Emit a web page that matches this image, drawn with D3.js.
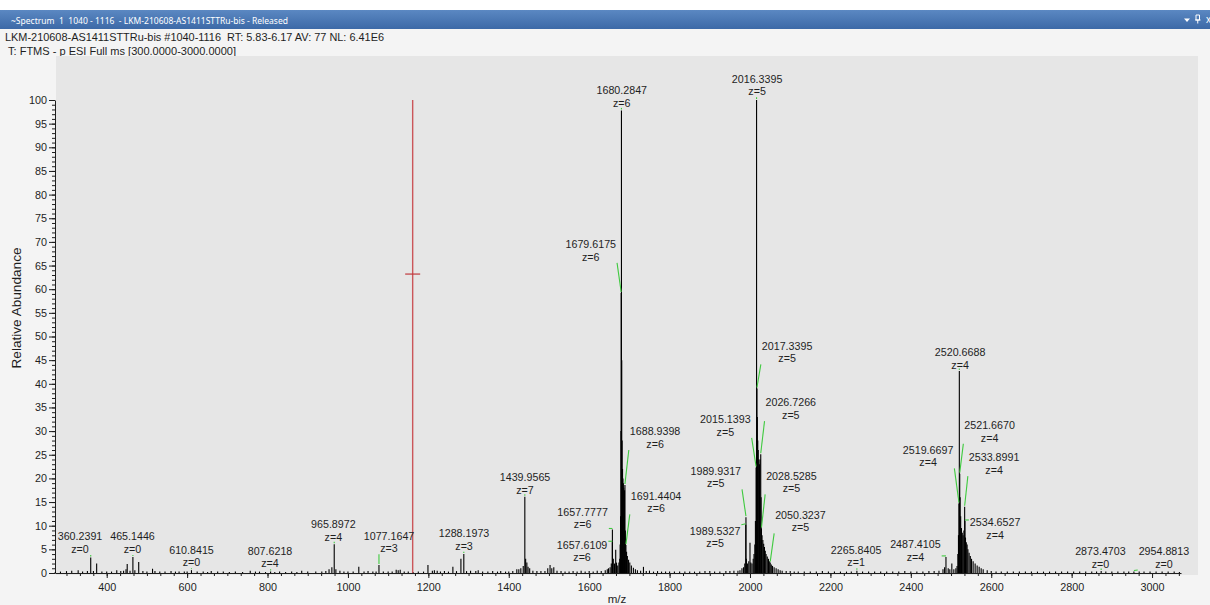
<!DOCTYPE html>
<html>
<head>
<meta charset="utf-8">
<script src="https://cdn.jsdelivr.net/npm/d3@7"></script>
<style>
  body { margin: 0; background: #ffffff; }
  svg { display: block; font-family: "Liberation Sans", Arial, sans-serif; }
  .pre { white-space: pre; }
</style>
</head>
<body>
<script>
/*#############################################################################################################
* ### Data #####################################################################################################
* #############################################################################################################*/
var windowTitle = "~Spectrum  1  1040 - 1116  - LKM-210608-AS1411STTRu-bis - Released";
var headerLines = [
    "LKM-210608-AS1411STTRu-bis #1040-1116  RT: 5.83-6.17 AV: 77 NL: 6.41E6",
    "T: FTMS - p ESI Full ms [300.0000-3000.0000]"
];
var xTitle = "m/z";
var yTitle = "Relative Abundance";
var xTicks = [400, 600, 800, 1000, 1200, 1400, 1600, 1800, 2000, 2200, 2400, 2600, 2800, 3000];
var yTicks = [0, 5, 10, 15, 20, 25, 30, 35, 40, 45, 50, 55, 60, 65, 70, 75, 80, 85, 90, 95, 100];
var mzRange = [271.4, 3072];

// [m/z, relative abundance]
var spectrum = [
    [272, 0.2], [285, 0.3], [300, 0.4], [313, 0.5], [329, 0.6], [340, 0.3], [352, 0.4], [360.2391, 3.3],
    [367, 0.4], [375, 2.0], [388, 0.3], [400, 0.3], [412, 0.3], [425, 0.6], [435, 0.4], [442, 0.5],
    [448, 0.8], [451, 1.9], [458, 0.5], [465.1446, 3.4], [470, 0.6], [479.6, 2.3], [490, 0.4], [500, 0.3],
    [514, 0.9], [520, 0.4], [532, 0.3], [545, 0.3], [560, 0.4], [571, 0.3], [580, 0.3], [593, 0.3],
    [600, 0.3], [610.8415, 0.6], [625, 0.3], [640, 0.3], [651, 0.2], [660, 0.4], [676, 0.3], [690, 0.3],
    [705, 0.2], [720, 0.3], [738, 0.2], [757, 0.5], [770, 0.3], [780, 0.3], [795, 0.2], [807.6218, 0.3],
    [818, 0.2], [830, 0.3], [845, 0.2], [860, 0.3], [873, 0.2], [885, 0.5], [900, 0.3], [920, 0.3],
    [935, 0.3], [945, 0.4], [953, 0.8], [960, 1.2], [965.8972, 6.1], [970, 0.8], [980, 0.5], [990, 0.3],
    [1000, 0.3], [1013, 0.3], [1027, 1.3], [1040, 0.3], [1050, 0.4], [1062, 0.3], [1070, 0.3], [1077.1647, 1.7],
    [1088, 0.3], [1100, 0.3], [1110, 0.3], [1120, 0.7], [1125, 0.6], [1130, 0.7], [1140, 0.3], [1150, 0.3],
    [1162, 0.2], [1175, 0.3], [1188, 0.3], [1199, 1.7], [1210, 0.5], [1215, 0.6], [1222, 0.5], [1230, 0.3],
    [1240, 0.4], [1250, 0.3], [1261, 1.3], [1270, 0.4], [1281, 3.0], [1288.1973, 4.0], [1295, 0.4], [1305, 0.5],
    [1318, 0.4], [1324, 0.6], [1335, 0.3], [1348, 0.3], [1360, 0.4], [1372, 0.3], [1380, 0.4], [1392, 0.3],
    [1400, 0.3], [1410, 0.4], [1420, 0.8], [1425, 0.8], [1430, 1.0], [1436, 1.5], [1439.9565, 16.1], [1442, 3.0],
    [1445, 2.2], [1448, 1.3], [1452, 1.0], [1460, 0.5], [1470, 0.4], [1480, 0.4], [1490, 0.4], [1497, 1.0],
    [1502.7, 1.7], [1507, 1.0], [1512, 1.2], [1520, 0.5], [1530, 0.4], [1540, 0.3], [1550, 0.3], [1560, 0.4],
    [1570, 0.3], [1580, 0.5], [1590, 0.3], [1600, 0.4], [1610, 0.3], [1620, 0.5], [1630, 0.4], [1640, 0.6],
    [1645, 0.8], [1648, 1.0], [1652, 1.2], [1655, 2.0], [1657.6109, 6.5], [1657.7777, 9.2], [1660, 3.0], [1663, 2.0],
    [1666, 4.9], [1668, 2.2], [1671, 1.6], [1674, 2.2], [1676, 3.0], [1677, 6], [1678, 12], [1679, 30],
    [1679.6175, 59.2], [1680.2847, 97.8], [1681, 45], [1682, 28], [1683, 22], [1684, 20], [1685, 19], [1686, 18],
    [1687, 17], [1688, 17.5], [1688.9398, 18.6], [1690, 9], [1691.4404, 5.9], [1693, 4.5], [1695, 3.6], [1698, 2.8],
    [1701, 2.2], [1705, 1.6], [1710, 1.1], [1715, 0.8], [1720, 0.6], [1728, 0.5], [1735, 1.3], [1742, 0.4],
    [1750, 0.5], [1760, 0.3], [1770, 0.4], [1780, 0.3], [1790, 0.3], [1800, 0.3], [1812, 0.3], [1825, 0.3],
    [1838, 0.3], [1850, 0.3], [1862, 0.3], [1875, 0.3], [1888, 0.4], [1900, 0.4], [1912, 0.3], [1925, 0.3],
    [1940, 0.4], [1950, 0.4], [1960, 0.5], [1970, 0.5], [1975, 0.6], [1980, 1.0], [1984, 1.2], [1987, 2.0],
    [1989.5327, 10.2], [1989.9317, 11.8], [1991, 3.0], [1994, 2.0], [1997, 2.5], [2000, 6.4], [2002, 2.2], [2005, 2.0],
    [2008, 3.0], [2010, 4.0], [2012, 6.0], [2013.5, 11], [2015.1393, 22.3], [2016.3395, 100], [2017.3395, 39], [2018.3, 33],
    [2019.3, 28], [2020.5, 26], [2022, 24], [2023.5, 23], [2025, 24], [2026.7266, 25.1], [2027.6, 16], [2028.5285, 9.4],
    [2030, 8], [2032, 7], [2034, 6.2], [2036, 5.5], [2038, 4.7], [2040, 4.0], [2043, 3.5], [2046, 3.0],
    [2048, 2.5], [2050.3237, 2.2], [2053, 1.8], [2056, 1.5], [2060, 1.2], [2065, 1.0], [2070, 0.8], [2075, 0.6],
    [2080, 0.5], [2090, 0.4], [2100, 0.4], [2110, 0.3], [2120, 0.3], [2135, 0.3], [2150, 0.3], [2165, 0.3],
    [2180, 0.4], [2195, 0.3], [2210, 0.3], [2225, 0.3], [2240, 0.3], [2252, 0.3], [2265.8405, 0.5], [2280, 0.3],
    [2295, 0.3], [2310, 0.3], [2325, 0.3], [2340, 0.3], [2355, 0.3], [2370, 0.3], [2385, 0.4], [2400, 0.3],
    [2415, 0.3], [2430, 0.3], [2445, 0.4], [2458, 0.4], [2470, 0.5], [2480, 0.8], [2484, 1.2], [2487.4105, 3.4],
    [2493, 1.0], [2497, 0.8], [2502, 2.0], [2507, 0.8], [2512, 1.0], [2515, 1.5], [2517, 4.0], [2518.5, 8],
    [2519.6697, 14.7], [2520.6688, 42.7], [2521.667, 21], [2522.7, 16], [2524, 12], [2526, 9.5], [2528, 8.5], [2530, 8],
    [2532, 9], [2533.8991, 14], [2534.6527, 11], [2536, 7.5], [2538, 6.5], [2540, 6], [2542, 5], [2545, 4.3],
    [2548, 3.6], [2551, 3], [2555, 2.5], [2560, 2], [2565, 1.6], [2570, 1.3], [2575, 1.0], [2580, 0.8],
    [2590, 0.6], [2600, 0.4], [2612, 0.3], [2625, 0.3], [2640, 0.3], [2655, 0.3], [2670, 0.3], [2685, 0.3],
    [2700, 0.3], [2715, 0.3], [2730, 0.3], [2745, 0.3], [2760, 0.3], [2775, 0.3], [2790, 0.3], [2805, 0.3],
    [2820, 0.3], [2835, 0.3], [2850, 0.3], [2862, 0.3], [2873.4703, 0.4], [2885, 0.3], [2900, 0.3], [2915, 0.3],
    [2930, 0.3], [2942, 0.3], [2954.8813, 0.3], [2968, 0.3], [2980, 0.3], [2995, 0.3], [3010, 0.3], [3025, 0.3],
    [3040, 0.3], [3055, 0.3], [3068, 0.2]
];

// annotated peaks: m/z and charge state
var labelMz = [360.2391, 465.1446, 610.8415, 807.6218, 965.8972, 1077.1647, 1288.1973, 1439.9565,
               1657.7777, 1657.6109, 1679.6175, 1680.2847, 1688.9398, 1691.4404, 1989.5327, 1989.9317,
               2015.1393, 2016.3395, 2017.3395, 2026.7266, 2028.5285, 2050.3237, 2265.8405, 2487.4105,
               2519.6697, 2520.6688, 2521.6670, 2533.8991, 2534.6527, 2873.4703, 2954.8813];
var labelZ   = [0, 0, 0, 4, 4, 3, 3, 7,
                6, 6, 6, 6, 6, 6, 5, 5,
                5, 5, 5, 5, 5, 5, 1, 4,
                4, 4, 4, 4, 4, 0, 0];

// where the label sits, in chart units: [m/z of label centre, abundance at the "z=" line]
var labelAt = [[333.6, 5.07], [464.2, 5.07], [611.0, 2.26], [806.2, 2.05], [963.7, 7.67], [1102.2, 5.22],
               [1288.8, 5.77], [1440.5, 17.54], [1583.6, 10.29], [1582.3, 3.32], [1604.0, 66.83], [1681.1, 99.37],
               [1763.9, 27.26], [1766.4, 13.67], [1913.2, 6.28], [1914.9, 18.95], [1938.8, 29.85], [2017.7, 101.84],
               [2092.3, 45.36], [2101.5, 33.38], [2103.0, 17.9], [2125.4, 9.66], [2263.9, 2.26], [2411.4, 3.44],
               [2443.0, 23.39], [2522.6, 43.95], [2596.0, 28.59], [2607.2, 21.76], [2609.7, 8.03], [2871.6, 1.90],
               [3029.6, 1.90]];

// red cursor
var cursorMz = 1161;
var cursorLevel = 63.2;

/*#############################################################################################################
* ### Layout ###################################################################################################
* #############################################################################################################*/
var W = 1210, H = 605;
var plotLeft = 55, plotRight = 1181, plotBottom = 573, plotTop = 100;
var bgBox = {x: 56, y: 56, w: 1142, h: 519};
var ink = "#1e1e1e";
var green = "#3fca3f";

var svg = d3.select("body").append("svg")
    .attr("width", W)
    .attr("height", H);

svg.append("rect").attr("width", W).attr("height", H).attr("fill", "#f4f4f4");
svg.append("rect").attr("width", W).attr("height", 10).attr("fill", "#ffffff");

// title bar
var defs = svg.append("defs");
var grad = defs.append("linearGradient").attr("id", "bar").attr("x1", 0).attr("x2", 0).attr("y1", 0).attr("y2", 1);
grad.append("stop").attr("offset", "0%").attr("stop-color", "#5b88c2");
grad.append("stop").attr("offset", "100%").attr("stop-color", "#3c69a7");

svg.append("rect")
    .attr("x", 0).attr("y", 10).attr("width", W).attr("height", 19)
    .attr("fill", "url(#bar)");

svg.append("text")
    .attr("class", "pre")
    .attr("x", 11).attr("y", 23.5)
    .attr("fill", "#ffffff")
    .style("font-family", "'Noto Sans', 'DejaVu Sans', sans-serif")
    .style("font-size", "9.5px")
    .attr("textLength", 277).attr("lengthAdjust", "spacingAndGlyphs")
    .text(windowTitle);

// little window icons top right
svg.append("path").attr("d", "M1184,18.5 L1190,18.5 L1187,22 Z").attr("fill", "#ffffff");
svg.append("path").attr("d", "M1196,15 h3.5 v5 h-3.5 Z M1195,20 h5.5 M1197.75,20 v3.5")
    .attr("fill", "none").attr("stroke", "#ffffff").attr("stroke-width", 1);
svg.append("text").attr("x", 1206).attr("y", 23).attr("fill", "#ffffff")
    .style("font-size", "10px").text("x");

// header lines
svg.append("text")
    .attr("class", "pre")
    .attr("x", 5).attr("y", 41.2)
    .attr("fill", ink).style("font-size", "11.4px")
    .attr("textLength", 379).attr("lengthAdjust", "spacingAndGlyphs")
    .text(headerLines[0]);
svg.append("text")
    .attr("x", 8).attr("y", 54.6)
    .attr("fill", ink).style("font-size", "11.4px")
    .attr("textLength", 228).attr("lengthAdjust", "spacingAndGlyphs")
    .text(headerLines[1]);

// plot background
svg.append("rect")
    .attr("x", bgBox.x).attr("y", bgBox.y).attr("width", bgBox.w).attr("height", bgBox.h)
    .attr("fill", "#e6e6e6");

/*#############################################################################################################
* ### Scales & axes ############################################################################################
* #############################################################################################################*/
var x = d3.scaleLinear().domain(mzRange).range([plotLeft, plotRight]);
var y = d3.scaleLinear().domain([0, 100]).range([plotBottom, plotTop]);

// minor ticks
svg.append("g")
    .attr("transform", "translate(" + plotLeft + ",0)")
    .call(d3.axisLeft(y).tickValues(d3.range(0, 101, 1)).tickSize(3).tickSizeOuter(0).tickFormat(""))
    .call(function(g){ g.select(".domain").remove(); g.selectAll("line").attr("stroke", ink); });

svg.append("g")
    .attr("transform", "translate(0," + plotBottom + ")")
    .call(d3.axisBottom(x).tickValues(d3.range(300, 3070, 200 / 6)).tickSize(3).tickSizeOuter(0).tickFormat(""))
    .call(function(g){ g.select(".domain").remove(); g.selectAll("line").attr("stroke", ink); });

// major ticks + labels
var yAxis = svg.append("g")
    .attr("transform", "translate(" + plotLeft + ",0)")
    .call(d3.axisLeft(y).tickValues(yTicks).tickSize(6).tickSizeOuter(0).tickPadding(2).tickFormat(d3.format("d")));

var xAxis = svg.append("g")
    .attr("transform", "translate(0," + plotBottom + ")")
    .call(d3.axisBottom(x).tickValues(xTicks).tickSize(5).tickSizeOuter(0).tickPadding(5).tickFormat(d3.format("d")));

[yAxis, xAxis].forEach(function(g){
    g.select(".domain").attr("stroke", ink);
    g.selectAll("line").attr("stroke", ink);
    g.selectAll("text")
        .attr("fill", ink)
        .style("font-family", "'Liberation Sans', Arial, sans-serif")
        .style("font-size", "10.8px");
});

svg.append("text")
    .attr("x", 617).attr("y", 603)
    .attr("text-anchor", "middle")
    .attr("fill", ink).style("font-size", "11.6px")
    .text(xTitle);

svg.append("text")
    .attr("transform", "translate(20.5,308) rotate(-90)")
    .attr("text-anchor", "middle")
    .attr("fill", ink).style("font-size", "12px")
    .attr("textLength", 121).attr("lengthAdjust", "spacingAndGlyphs")
    .text(yTitle);

/*#############################################################################################################
* ### Spectrum sticks ##########################################################################################
* #############################################################################################################*/
svg.append("g")
    .selectAll("line")
    .data(spectrum)
  .enter().append("line")
    .attr("x1", function(d){ return x(d[0]); })
    .attr("x2", function(d){ return x(d[0]); })
    .attr("y1", y(0))
    .attr("y2", function(d){ return y(d[1]); })
    .attr("stroke", "#000000")
    .attr("stroke-width", 1.1);

// red cursor
svg.append("line")
    .attr("x1", x(cursorMz)).attr("x2", x(cursorMz))
    .attr("y1", y(100)).attr("y2", y(0))
    .attr("stroke", "#c9474b").attr("stroke-width", 1.4).attr("opacity", 0.9);
svg.append("line")
    .attr("x1", x(cursorMz) - 7.5).attr("x2", x(cursorMz) + 7.5)
    .attr("y1", y(cursorLevel)).attr("y2", y(cursorLevel))
    .attr("stroke", "#c0393d").attr("stroke-width", 1.2);

/*#############################################################################################################
* ### Peak labels with green leaders ###########################################################################
* #############################################################################################################*/
var abundOf = {};
spectrum.forEach(function(d){ abundOf[d[0].toFixed(4)] = d[1]; });

var labels = labelMz.map(function(m, i){
    return {mz: m, z: labelZ[i], at: labelAt[i], top: abundOf[m.toFixed(4)]};
});

var lineGap = 12.6;
var lg = svg.append("g");
var leaderG = svg.append("g");

labels.forEach(function(d){
    var cx = x(d.at[0]);
    var cz = y(d.at[1]);
    var t1 = lg.append("text")
        .attr("x", cx).attr("y", cz - lineGap).attr("dy", "0.36em")
        .attr("text-anchor", "middle")
        .attr("fill", ink).style("font-size", "10.7px")
        .text(d.mz.toFixed(4));
    lg.append("text")
        .attr("x", cx).attr("y", cz).attr("dy", "0.36em")
        .attr("text-anchor", "middle")
        .attr("fill", ink).style("font-size", "10.7px")
        .text("z=" + d.z);

    var w = t1.node().getComputedTextLength();
    var left = cx - w / 2, right = cx + w / 2;
    var top = cz - lineGap - 6, bottom = cz + 6;
    var px = x(d.mz), py = y(d.top) - 1;

    // leader starts on the label box edge closest to the peak top
    var sx = Math.max(left - 1, Math.min(right + 1, px));
    var sy = Math.max(top, Math.min(bottom, py));
    if (Math.abs(sx - px) < 0.5 && Math.abs(sy - py) < 0.5) { sy = py - 1.5; }

    leaderG.append("line")
        .attr("x1", sx).attr("y1", sy)
        .attr("x2", px).attr("y2", py)
        .attr("stroke", green).attr("stroke-width", 1.1);
});
</script>
</body>
</html>
